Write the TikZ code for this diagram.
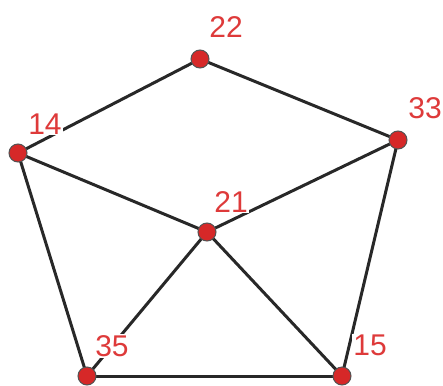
\documentclass[tikz,border=0pt]{standalone}
\usepackage{fontspec}
\setmainfont{Liberation Sans}
\definecolor{vred}{RGB}{214,40,40}
\definecolor{lred}{RGB}{222,58,58}
\definecolor{edge}{RGB}{40,40,40}
\begin{document}
\begin{tikzpicture}[x=1pt,y=-1pt,
  vtx/.style={circle,fill=vred,draw=edge!80,line width=1pt,minimum size=18pt,inner sep=0pt},
  lbl/.style={text=lred,fill=white,inner sep=1pt,font=\fontsize{30}{30}\selectfont},
  con/.style={draw=edge,line width=3pt}]
\useasboundingbox (0,0) rectangle (443,385);
\coordinate (22) at (200,59);
\coordinate (33) at (398,140);
\coordinate (14) at (18,153);
\coordinate (21) at (207,232);
\coordinate (35) at (87,376);
\coordinate (15) at (342,376);
\draw[con] (22) -- (14);
\draw[con] (22) -- (33);
\draw[con] (14) -- (21);
\draw[con] (33) -- (21);
\draw[con] (14) -- (35);
\draw[con] (33) -- (15);
\draw[con] (21) -- (35);
\draw[con] (21) -- (15);
\draw[con] (35) -- (15);
\node[lbl] (l22) at (226,27) {22};
\node[lbl] (l33) at (425,108) {33};
\node[lbl] (l14) at (45,124) {14};
\node[lbl] (l21) at (231,202) {21};
\node[lbl] (l35) at (112,346) {35};
\node[lbl] (l15) at (370,345) {15};
\foreach \n in {22,33,14,21,35,15} \node[vtx] (v\n) at (\n) {};
\end{tikzpicture}
\end{document}
